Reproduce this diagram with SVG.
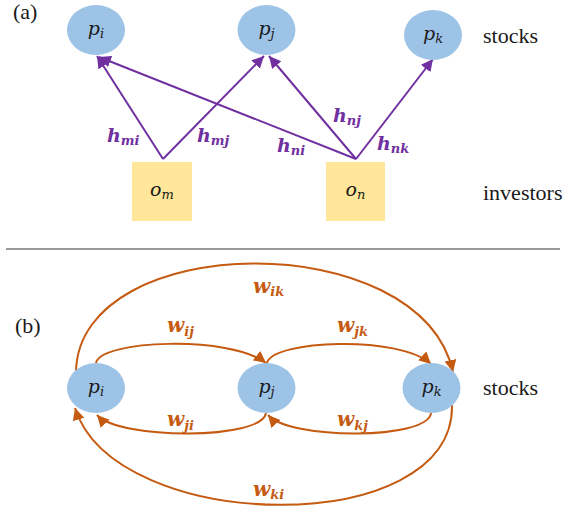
<svg xmlns="http://www.w3.org/2000/svg" width="565" height="514" viewBox="0 0 565 514">
<style>
.stock{fill:#9DC3E6}
.inv{fill:#FFE699}
.pl{stroke:#7030A0;stroke-width:2;fill:none}
.ol{stroke:#C55A11;stroke-width:2;fill:none}
.nl{font-family:'DejaVu Serif',serif;font-style:italic;font-size:19px;fill:#1a1a1a}
.sub{font-size:13px}
.hl{font-family:'DejaVu Serif',serif;font-style:italic;font-weight:bold;font-size:19px;fill:#7030A0}
.wl{font-family:'DejaVu Serif',serif;font-style:italic;font-weight:bold;font-size:20px;fill:#C55A11}
.tx{font-family:'Liberation Serif',serif;font-size:22px;fill:#1a1a1a}
</style>
<defs>
<marker id="ap" markerUnits="userSpaceOnUse" markerWidth="13" markerHeight="13" refX="12" refY="6" orient="auto"><path d="M0,0 L12,6 L0,12 z" fill="#7030A0"/></marker>
<marker id="ao" markerUnits="userSpaceOnUse" markerWidth="13" markerHeight="13" refX="12" refY="6" orient="auto"><path d="M0,0 L12,6 L0,12 z" fill="#C55A11"/></marker>
</defs>
<text class="tx" x="13" y="19">(a)</text>
<text class="tx" x="15" y="333">(b)</text>
<text class="tx" x="483" y="43">stocks</text>
<text class="tx" x="483" y="200">investors</text>
<text class="tx" x="483" y="395">stocks</text>
<line x1="6" y1="249" x2="560" y2="249" stroke="#777" stroke-width="1.5"/>
<g id="connectors">
<line class="pl" x1="163" y1="159" x2="97" y2="56" marker-end="url(#ap)"/>
<line class="pl" x1="163" y1="159" x2="264" y2="56" marker-end="url(#ap)"/>
<line class="pl" x1="356" y1="159" x2="99" y2="57" marker-end="url(#ap)"/>
<line class="pl" x1="356" y1="159" x2="269" y2="56" marker-end="url(#ap)"/>
<line class="pl" x1="356" y1="159" x2="433" y2="59" marker-end="url(#ap)"/>
<text class="hl" x="107" y="142">h<tspan class="sub" dy="3">mi</tspan></text>
<text class="hl" x="197" y="142">h<tspan class="sub" dy="3">mj</tspan></text>
<text class="hl" x="277" y="152">h<tspan class="sub" dy="3">ni</tspan></text>
<text class="hl" x="333" y="122">h<tspan class="sub" dy="3">nj</tspan></text>
<text class="hl" x="377" y="150">h<tspan class="sub" dy="3">nk</tspan></text>
<path class="ol" d="M96,363 C100,340 230,335 266,363" marker-end="url(#ao)"/>
<path class="ol" d="M267,363 C272,340 400,335 431,364" marker-end="url(#ao)"/>
<path class="ol" d="M76,371 C80,230 420,225 453,372" marker-end="url(#ao)"/>
<path class="ol" d="M266,413 C262,440 120,440 97,415" marker-end="url(#ao)"/>
<path class="ol" d="M431,413 C428,440 290,440 268,415" marker-end="url(#ao)"/>
<path class="ol" d="M452,405 C455,540 115,535 75,408" marker-end="url(#ao)"/>
<text class="wl" x="253" y="293">w<tspan class="sub" dy="3">ik</tspan></text>
<text class="wl" x="167" y="332">w<tspan class="sub" dy="4">ij</tspan></text>
<text class="wl" x="337" y="332">w<tspan class="sub" dy="4">jk</tspan></text>
<text class="wl" x="167" y="426">w<tspan class="sub" dy="4">ji</tspan></text>
<text class="wl" x="337" y="426">w<tspan class="sub" dy="4">kj</tspan></text>
<text class="wl" x="253" y="496">w<tspan class="sub" dy="3">ki</tspan></text>
</g>
<g id="a_pi"><ellipse class="stock" cx="96" cy="30" rx="29" ry="25"/><text class="nl" x="96" y="35" text-anchor="middle">p<tspan class="sub" dy="3">i</tspan></text></g>
<g id="a_pj"><ellipse class="stock" cx="266.5" cy="30" rx="29" ry="25"/><text class="nl" x="266.5" y="35" text-anchor="middle">p<tspan class="sub" dy="3">j</tspan></text></g>
<g id="a_pk"><ellipse class="stock" cx="433" cy="35" rx="29" ry="25"/><text class="nl" x="433" y="40" text-anchor="middle">p<tspan class="sub" dy="3">k</tspan></text></g>
<g id="a_om"><rect class="inv" x="132" y="162" width="60" height="59"/><text class="nl" x="162" y="196" text-anchor="middle">o<tspan class="sub" dy="3">m</tspan></text></g>
<g id="a_on"><rect class="inv" x="326" y="162" width="59" height="59"/><text class="nl" x="355.5" y="196" text-anchor="middle">o<tspan class="sub" dy="3">n</tspan></text></g>
<g id="b_pi"><ellipse class="stock" cx="96" cy="388" rx="29" ry="25"/><text class="nl" x="96" y="393" text-anchor="middle">p<tspan class="sub" dy="3">i</tspan></text></g>
<g id="b_pj"><ellipse class="stock" cx="266.5" cy="388" rx="29" ry="25"/><text class="nl" x="266.5" y="393" text-anchor="middle">p<tspan class="sub" dy="3">j</tspan></text></g>
<g id="b_pk"><ellipse class="stock" cx="431.5" cy="388" rx="29" ry="25"/><text class="nl" x="431.5" y="393" text-anchor="middle">p<tspan class="sub" dy="3">k</tspan></text></g>
</svg>
